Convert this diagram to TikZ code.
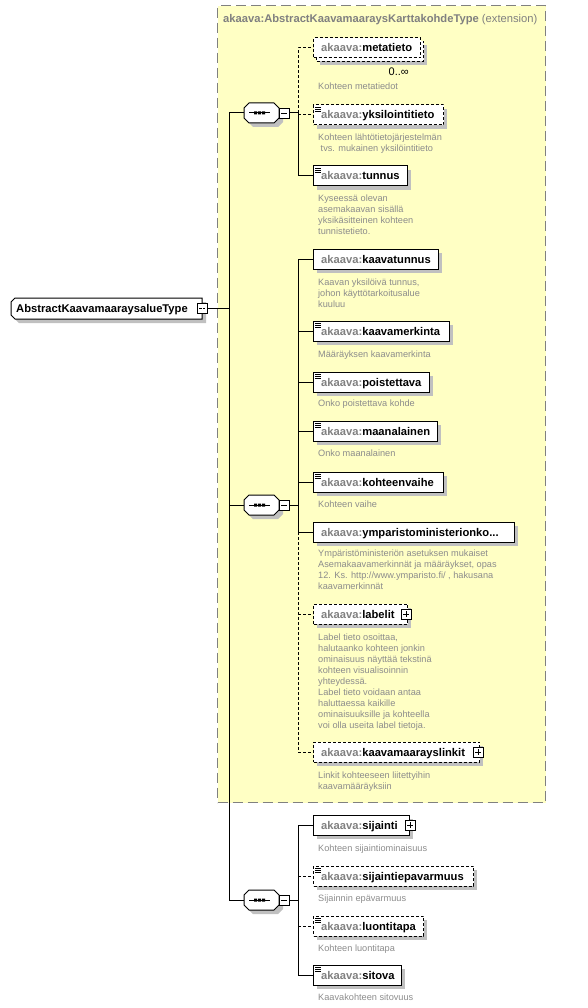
\documentclass[tikz,border=0pt]{standalone}
\usepackage{fontspec}
\setmainfont{Liberation Sans}
\definecolor{xyellow}{RGB}{255,255,196}
\definecolor{xborder}{RGB}{128,128,128}
\definecolor{xpfx}{RGB}{128,128,128}
\definecolor{xdesc}{RGB}{140,140,140}
\definecolor{xshadow}{RGB}{192,192,192}
\tikzset{
  conn/.style={line width=1pt, black},
  opt/.style={dash pattern=on 3pt off 2pt},
  elbox/.style={draw, fill=white, line width=1pt, minimum height=20pt, inner sep=0pt},
  elname/.style={inner sep=0pt, font=\fontsize{11.2}{13}\selectfont\bfseries},
  desc/.style={inner sep=0pt, text=xdesc, font=\fontsize{9.2}{11}\selectfont},
  shad/.style={fill=xshadow},
  pbox/.style={draw, fill=white, line width=0.8pt, minimum size=10pt, inner sep=0pt},
}
% element: name, right x, centre y, label, border style, icon flag
\newcommand\xel[6]{%
  \fill[shad] (317,#3-6) rectangle (#2+4,#3+14);
  \pgfmathsetmacro\xw{#2-313}
  \node[elbox,#5,minimum width=\xw pt,anchor=west] (#1) at (313,#3) {};
  \node[elname,anchor=base west] (#1-t) at (321,#3+4) {\textcolor{xpfx}{akaava:}#4};
  \ifnum#6=1
    \draw[line width=0.7pt] (315,#3-8) -- (320.5,#3-8) (315,#3-6) -- (320.5,#3-6) (315,#3-4) -- (320.5,#3-4);
  \fi
}
% plus box: name, centre x, centre y
\newcommand\xplus[3]{%
  \node[pbox] (#1) at (#2,#3) {};
  \draw[line width=0.8pt] (#2-3,#3) -- (#2+3,#3) (#2,#3-3) -- (#2,#3+3);
}
% description: name, centre y of first line, lines
\newcommand\xdesc[3]{%
  \foreach \l [count=\i] in {#3} {\node[desc,anchor=base west] (#1-d\i) at (318,{#2+11*\i-8}) {\l};}
}
% sequence compositor: name, centre y
\newcommand\xseq[2]{%
  \fill[shad] (253,#2-6) -- (278,#2-6) -- (283,#2-1) -- (283,#2+9) -- (278,#2+14) -- (253,#2+14) -- (248,#2+9) -- (248,#2-1) -- cycle;
  \node[minimum width=35pt, minimum height=20pt, inner sep=0pt] (#1) at (261.5,#2) {};
  \filldraw[fill=white, line width=1pt] (249,#2-10) -- (274,#2-10) -- (279,#2-5) -- (279,#2+5) -- (274,#2+10) -- (249,#2+10) -- (244,#2+5) -- (244,#2-5) -- cycle;
  \draw[line width=1pt] (249,#2) -- (270,#2);
  \fill (254,#2-1.5) rectangle (257,#2+1.5) (258,#2-1.5) rectangle (261,#2+1.5) (262,#2-1.5) rectangle (265,#2+1.5);
  \node[pbox] (#1m) at (284,#2) {};
  \draw[line width=0.8pt] (281,#2) -- (287,#2);
}
\begin{document}
\begin{tikzpicture}[x=1pt,y=-1pt]
\useasboundingbox (0,0) rectangle (588,1008);
% extension box
\node[draw=xborder, fill=xyellow, line width=1.2pt, dash pattern=on 10pt off 5pt,
  minimum width=328pt, minimum height=797pt, inner sep=0pt, anchor=north west] (ext) at (217,5) {};
\node[anchor=base west, inner sep=0pt, text=xpfx, font=\fontsize{11.2}{13}\selectfont] (ext-t) at (223,23)
  {\textbf{akaava:AbstractKaavamaaraysKarttakohdeType} (extension)};

% root
\fill[shad] (19,302) -- (206,302) -- (206,323) -- (19,323) -- (15,319) -- (15,306) -- cycle;
\node[minimum width=191pt, minimum height=21pt, inner sep=0pt] (root) at (106.5,308.5) {};
\filldraw[fill=white, line width=1pt] (15,298) -- (202,298) -- (202,319) -- (15,319) -- (11,315) -- (11,302) -- cycle;
\node[elname, anchor=base west] (root-t) at (16,312.5) {AbstractKaavamaaraysalueType};
\xplus{rootm}{202}{308}
\draw[line width=0.8pt,white] (202,305) -- (202,311);

% compositors
\xseq{s1}{113}
\xseq{s2}{505}
\xseq{s3}{900}

% sequence 1
\fill[shad] (320,45) rectangle (427,65);
\node[elbox,opt,minimum width=107pt,anchor=north west] (meta-b) at (316,41) {};
\node[elbox,opt,minimum width=107pt,anchor=west] (meta) at (313,48) {};
\node[elname,anchor=base west] (meta-t) at (321,52) {\textcolor{xpfx}{akaava:}metatieto};
\node[inner sep=0pt, anchor=base east, font=\fontsize{11}{13}\selectfont] (meta-occ) at (409,76) {0..∞};
\xdesc{meta}{87}{Kohteen metatiedot}
\xel{yks}{443}{115}{yksilointitieto}{opt}{1}
\xdesc{yks}{138}{Kohteen lähtötietojärjestelmän,\hspace{2.5pt}tvs. mukainen yksilöintitieto}
\xel{tun}{407}{176}{tunnus}{solid}{1}
\xdesc{tun}{199}{Kyseessä olevan,asemakaavan sisällä,yksikäsitteinen kohteen,tunnistetieto.}

% sequence 2
\xel{kt}{438}{259}{kaavatunnus}{solid}{0}
\xdesc{kt}{282}{{Kaavan yksilöivä tunnus,},johon käyttötarkoitusalue,kuuluu}
\xel{km}{449}{331}{kaavamerkinta}{solid}{1}
\xdesc{km}{354}{Määräyksen kaavamerkinta}
\xel{poi}{429}{382}{poistettava}{solid}{1}
\xdesc{poi}{403}{Onko poistettava kohde}
\xel{maa}{437}{431}{maanalainen}{solid}{1}
\xdesc{maa}{453}{Onko maanalainen}
\xel{kv}{443}{482}{kohteenvaihe}{solid}{1}
\xdesc{kv}{504}{Kohteen vaihe}
\xel{ymp}{514}{532}{ymparistoministerionko...}{solid}{0}
\xdesc{ymp}{553}{Ympäristöministeriön asetuksen mukaiset,{Asemakaavamerkinnät ja määräykset, opas},{12. Ks. http://www.ymparisto.fi/ , hakusana},kaavamerkinnät}
\xel{lab}{407}{614}{labelit}{opt}{0}
\xplus{lab-p}{406}{614}
\xdesc{lab}{637}{{Label tieto osoittaa,},halutaanko kohteen jonkin,ominaisuus näyttää tekstinä,kohteen visualisoinnin,yhteydessä.,Label tieto voidaan antaa,haluttaessa kaikille,ominaisuuksille ja kohteella,voi olla useita label tietoja.}
\xel{kml}{479}{752}{kaavamaarayslinkit}{opt}{0}
\xplus{kml-p}{478}{752}
\xdesc{kml}{775}{Linkit kohteeseen liitettyihin,kaavamääräyksiin}

% sequence 3
\xel{sij}{409}{825}{sijainti}{solid}{0}
\xplus{sij-p}{410}{825}
\xdesc{sij}{848}{Kohteen sijaintiominaisuus}
\xel{sep}{473}{876}{sijaintiepavarmuus}{opt}{1}
\xdesc{sep}{898}{Sijainnin epävarmuus}
\xel{lt}{423}{926}{luontitapa}{opt}{1}
\xdesc{lt}{948}{Kohteen luontitapa}
\xel{sit}{401}{975}{sitova}{solid}{1}
\xdesc{sit}{997}{Kaavakohteen sitovuus}

% trunk connectors
\coordinate (tr) at (229,308);
\draw[conn] (rootm.east) -- (tr);
\draw[conn] (tr |- s1.west) -- (tr |- s3.west);
\draw[conn] (tr |- s1.west) -- (s1.west);
\draw[conn] (tr |- s2.west) -- (s2.west);
\draw[conn] (tr |- s3.west) -- (s3.west);

% sequence 1 connectors
\coordinate (j1) at (298,113);
\draw[conn] (s1m.east) -- (j1);
\draw[conn,opt] (j1) -- (j1 |- meta.west) -- (meta.west);
\draw[conn,opt] (j1 |- yks.west) -- (yks.west);
\draw[conn] (j1) -- (j1 |- tun.west) -- (tun.west);

% sequence 2 connectors
\coordinate (j2) at (298,505);
\draw[conn] (s2m.east) -- (j2);
\draw[conn] (j2 |- kt.west) -- (j2 |- ymp.west);
\draw[conn,opt] (j2 |- ymp.west) -- (j2 |- kml.west);
\foreach \n in {kt,km,poi,maa,kv,ymp} {\draw[conn] (j2 |- \n.west) -- (\n.west);}
\draw[conn,opt] (j2 |- lab.west) -- (lab.west);
\draw[conn,opt] (j2 |- kml.west) -- (kml.west);

% sequence 3 connectors
\coordinate (j3) at (298,900);
\draw[conn] (s3m.east) -- (j3);
\draw[conn] (j3 |- sij.west) -- (j3 |- sit.west);
\draw[conn] (j3 |- sij.west) -- (sij.west);
\draw[conn,opt] (j3 |- sep.west) -- (sep.west);
\draw[conn,opt] (j3 |- lt.west) -- (lt.west);
\draw[conn] (j3 |- sit.west) -- (sit.west);
\end{tikzpicture}
\end{document}
